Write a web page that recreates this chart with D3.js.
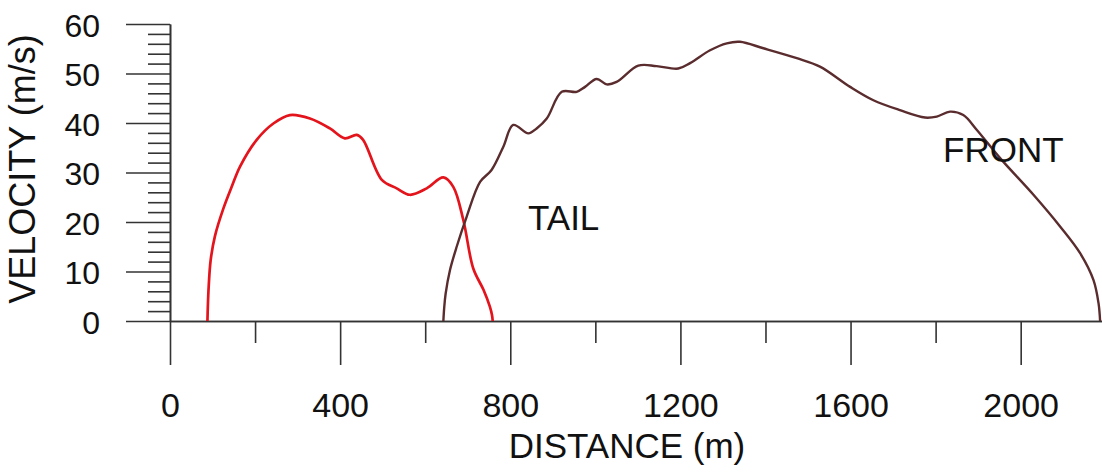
<!DOCTYPE html>
<html>
<head>
<meta charset="utf-8">
<script src="https://cdn.jsdelivr.net/npm/d3@7/dist/d3.min.js"></script>
<style>
  html, body { margin: 0; padding: 0; background: #fff; }
  svg { display: block; }
  text { font-family: "Liberation Sans", Arial, sans-serif; fill: #111; }
</style>
</head>
<body>
<svg id="chart" width="1102" height="475"></svg>
<script>
// Velocity profiles along the flow path: tail and front
const tailDistance = [88, 89, 91, 95.6, 105.8, 125, 145, 164.6, 203.8, 243, 282, 329, 376, 411, 439, 454, 498, 533, 564, 603.6, 642.7, 666, 689.6, 713, 737, 752, 757, 758.7];
const tailVelocity = [0, 3, 7, 12.3, 17.2, 22.6, 27.1, 31.2, 36.6, 39.9, 41.6, 40.9, 38.9, 36.9, 37.6, 36.6, 28.5, 26.8, 25.5, 26.8, 29.0, 27.1, 20.4, 10.6, 6.3, 2.9, 1.2, 0];

const frontDistance = [642.7, 644.5, 648, 658.3, 674, 697.6, 729, 756, 783.7, 807, 842.5, 862, 885.8, 921, 956, 975.8, 1003, 1026.8, 1050, 1101, 1144, 1195, 1222.7, 1269.7, 1309, 1340, 1395, 1473.6, 1528, 1599, 1653.7, 1716, 1775, 1802.7, 1834, 1865, 1897, 1951.6, 2030, 2092.6, 2139.7, 2171, 2183, 2186.7];
const frontVelocity = [0, 2.5, 5.5, 10.3, 15, 21.1, 28.1, 30.5, 35.2, 39.6, 37.9, 38.9, 40.9, 46.3, 46.3, 47.3, 48.9, 47.8, 48.3, 51.6, 51.5, 51.0, 52.1, 54.7, 56.1, 56.4, 55.1, 53.1, 51.4, 47.3, 44.6, 42.6, 41.1, 41.3, 42.3, 41.6, 38.6, 32.9, 25.5, 19.1, 13.7, 8.3, 3.6, 0];

const xMajorTicks = [0, 400, 800, 1200, 1600, 2000];
const xMinorTicks = [200, 600, 1000, 1400, 1800];
const yMajorTicks = [0, 10, 20, 30, 40, 50, 60];
const yMinorTicks = [2, 4, 6, 8, 12, 14, 16, 18, 22, 24, 26, 28, 32, 34, 36, 38, 42, 44, 46, 48, 52, 54, 56, 58];

const svg = d3.select("#chart");

const x = d3.scaleLinear().domain([0, 2190]).range([170, 1101.5]);
const y = d3.scaleLinear().domain([0, 60]).range([321, 24]);

const axisColor = "#333";
const fmt = d3.format("d");

// y axis: major ticks with labels, minor ticks without
const yMajor = svg.append("g").attr("transform", `translate(${x(0)},0)`)
  .call(d3.axisLeft(y).tickValues(yMajorTicks).tickFormat(fmt).tickSize(44).tickSizeOuter(0).tickPadding(26));
const yMinor = svg.append("g").attr("transform", `translate(${x(0)},0)`)
  .call(d3.axisLeft(y).tickValues(yMinorTicks).tickSize(22).tickSizeOuter(0).tickFormat(""));

// x axis
const xMajor = svg.append("g").attr("transform", `translate(0,${y(0)})`)
  .call(d3.axisBottom(x).tickValues(xMajorTicks).tickFormat(fmt).tickSize(44).tickSizeOuter(0).tickPadding(28));
const xMinor = svg.append("g").attr("transform", `translate(0,${y(0)})`)
  .call(d3.axisBottom(x).tickValues(xMinorTicks).tickSize(22).tickSizeOuter(0).tickFormat(""));

[yMajor, yMinor, xMajor, xMinor].forEach(g => {
  g.selectAll("path.domain").attr("stroke", axisColor).attr("stroke-width", 1.6);
  g.selectAll(".tick line").attr("stroke", axisColor).attr("stroke-width", 1.6);
});

yMajor.selectAll(".tick text")
  .attr("font-size", 32).attr("fill", "#111")
  .attr("font-family", "Liberation Sans, Arial, sans-serif")
  .attr("dy", "0.38em");
xMajor.selectAll(".tick text")
  .attr("font-size", 34).attr("fill", "#111")
  .attr("font-family", "Liberation Sans, Arial, sans-serif");

// axis titles
svg.append("text")
  .attr("x", 627).attr("y", 458)
  .attr("text-anchor", "middle")
  .attr("font-size", 35)
  .text("DISTANCE (m)");

svg.append("text")
  .attr("transform", "translate(35,169) rotate(-90)")
  .attr("text-anchor", "middle")
  .attr("font-size", 36)
  .text("VELOCITY (m/s)");

// curves
const line = d3.line()
  .x(d => x(d[0]))
  .y(d => y(d[1]))
  .curve(d3.curveCatmullRom.alpha(0.5));

svg.append("path")
  .datum(d3.zip(tailDistance, tailVelocity))
  .attr("fill", "none")
  .attr("stroke", "#e3141c")
  .attr("stroke-width", 2.7)
  .attr("stroke-linejoin", "round")
  .attr("d", line);

svg.append("path")
  .datum(d3.zip(frontDistance, frontVelocity))
  .attr("fill", "none")
  .attr("stroke", "#5a2c2e")
  .attr("stroke-width", 2.4)
  .attr("stroke-linejoin", "round")
  .attr("d", line);

// curve labels
svg.append("text")
  .attr("x", 528).attr("y", 230)
  .attr("font-size", 35)
  .text("TAIL");

svg.append("text")
  .attr("x", 943).attr("y", 161.7)
  .attr("font-size", 35)
  .text("FRONT");
</script>
</body>
</html>
